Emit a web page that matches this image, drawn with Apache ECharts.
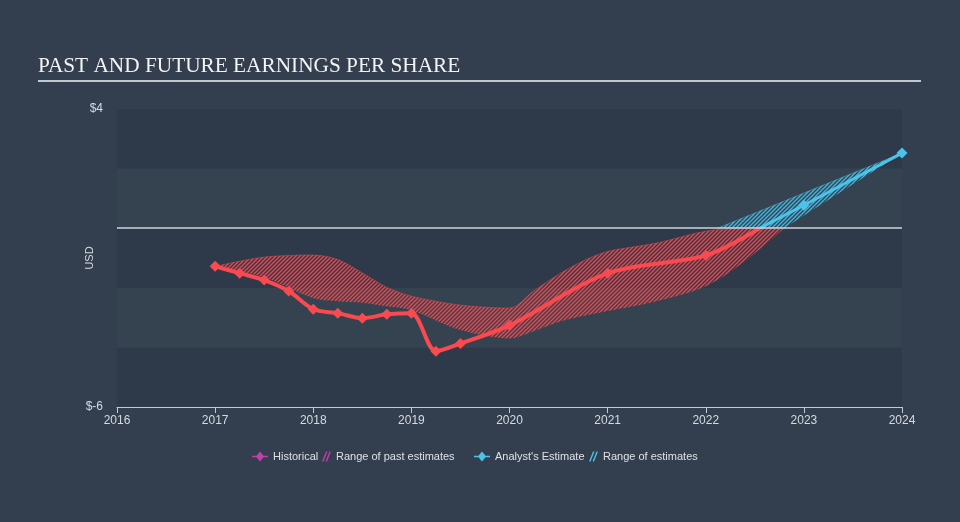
<!DOCTYPE html>
<html><head><meta charset="utf-8">
<script src="https://cdn.jsdelivr.net/npm/echarts@6/dist/echarts.min.js"></script>
<style>html,body{margin:0;padding:0;background:#333f4e}#c{width:960px;height:522px}</style>
</head><body><div id="c"></div>
<script>
// ---- data ----
const xTicks = [2016, 2017, 2018, 2019, 2020, 2021, 2022, 2023, 2024];
const yMin = -6, yMax = 4;
const histX = [2017, 2017.25, 2017.5, 2017.75, 2018, 2018.25, 2018.5, 2018.75, 2019, 2019.25, 2019.5, 2020, 2021, 2022, 2022.55];
const histY = [-1.28, -1.51, -1.74, -2.11, -2.72, -2.85, -3.02, -2.89, -2.85, -4.13, -3.87, -3.26, -1.51, -0.91, 0.0];
const estX = [2022.55, 2023, 2024];
const estY = [0.0, 0.77, 2.52];
const pastBandX    = [2017, 2017.5, 2018, 2018.25, 2018.5, 2018.75, 2019, 2019.5, 2020, 2020.25, 2020.5, 2020.75, 2021, 2021.5, 2022, 2022.4, 2022.8];
const pastBandHigh = [-1.28, -0.97, -0.9, -1.05, -1.5, -1.98, -2.28, -2.58, -2.68, -2.1, -1.55, -1.1, -0.78, -0.5, -0.1, 0, 0];
const pastBandLow  = [-1.28, -1.65, -2.35, -2.45, -2.5, -2.62, -2.75, -3.42, -3.7, -3.45, -3.15, -2.95, -2.78, -2.45, -1.95, -1.1, 0];
const futBandX    = [2022.12, 2022.8, 2023, 2024];
const futBandHigh = [0, 0.91, 1.18, 2.52];
const futBandLow  = [0, 0, 0.43, 2.52];

// ---- helpers ----
function hatch(color) {
  const c = document.createElement('canvas');
  c.width = 4; c.height = 4;
  const g = c.getContext('2d');
  g.strokeStyle = color; g.lineWidth = 1.5;
  g.beginPath();
  g.moveTo(0, 4); g.lineTo(4, 0);
  g.moveTo(-1, 1); g.lineTo(1, -1);
  g.moveTo(3, 5); g.lineTo(5, 3);
  g.stroke();
  return { image: c, repeat: 'repeat' };
}
// rows are [y, x] so that the stacked dimension is the value (y) dimension
const rowsYX = (xs, ys) => xs.map((x, i) => [ys[i], x]);
const diff = (hi, lo) => hi.map((v, i) => +(v - lo[i]).toFixed(3));

const RED = '#fa4a4f', BLUE = '#4cc3ea', MAG = '#c13fa9';
const hatchIcon = 'path://M0,10L4,0L5.5,0L1.5,10Z M3.5,10L7.5,0L9,0L5,10Z';
const lineDiamondIcon = 'path://M0,4.2L4.5,4.2L8,0L11.5,4.2L16,4.2L16,5.8L11.5,5.8L8,10L4.5,5.8L0,5.8Z';
const enc = { x: 1, y: 0 };
const legendText = { color: '#dde1e5', fontSize: 11, fontFamily: 'Liberation Sans, Arial, sans-serif' };
const legendItem = (left, name, icon, color, w) => ({
  left, top: 451, itemWidth: w, itemHeight: 10, selectedMode: false, padding: 0,
  textStyle: legendText, data: [{ name, icon, itemStyle: { color } }]
});

const chart = echarts.init(document.getElementById('c'));
chart.setOption({
  backgroundColor: '#333f4e',
  animation: false,
  graphic: [
    { type: 'text', left: 38, top: 56, style: { text: 'PAST AND FUTURE EARNINGS PER SHARE', font: '21.3px "Liberation Serif", "Times New Roman", serif', fill: '#f2f3f5' } },
    { type: 'line', shape: { x1: 38, y1: 81, x2: 921, y2: 81 }, style: { stroke: '#c3c8ce', lineWidth: 2 } }
  ],
  legend: [
    legendItem(252, 'Historical', lineDiamondIcon, MAG, 16),
    legendItem(322, 'Range of past estimates', hatchIcon, MAG, 9),
    legendItem(474, "Analyst's Estimate", lineDiamondIcon, BLUE, 16),
    legendItem(589, 'Range of estimates', hatchIcon, BLUE, 9)
  ],
  grid: { left: 117, right: 58, top: 109, bottom: 115 },
  xAxis: {
    type: 'value', min: xTicks[0], max: xTicks[xTicks.length - 1], interval: 1,
    axisLine: { onZero: false, lineStyle: { color: '#c5cad1', width: 1 } },
    axisTick: { show: true, length: 6, lineStyle: { color: '#c5cad1' } },
    axisLabel: { color: '#d6dae0', fontSize: 12, margin: 8, fontFamily: 'Liberation Sans, Arial, sans-serif', formatter: v => String(v) },
    splitLine: { show: false }
  },
  yAxis: {
    type: 'value', min: yMin, max: yMax, interval: 2,
    name: 'USD', nameLocation: 'middle', nameGap: 22, nameMoveOverlap: false,
    nameTextStyle: { color: '#d6dae0', fontSize: 11, fontFamily: 'Liberation Sans, Arial, sans-serif' },
    axisLine: { show: false }, axisTick: { show: false },
    axisLabel: { color: '#d6dae0', fontSize: 12, margin: 14, fontFamily: 'Liberation Sans, Arial, sans-serif',
      formatter: v => (v === yMax || v === yMin) ? '$' + v : '' },
    splitLine: { show: false },
    splitArea: { show: true, areaStyle: { color: ['#2e3a49', '#354250'] } }
  },
  series: [
    { name: 'pastLow', type: 'line', data: rowsYX(pastBandX, pastBandLow), encode: enc, stack: 'past', stackStrategy: 'all',
      symbol: 'none', smooth: 0.3, lineStyle: { opacity: 0 }, silent: true, z: 2 },
    { name: 'Range of past estimates', type: 'line', data: rowsYX(pastBandX, diff(pastBandHigh, pastBandLow)), encode: enc, stack: 'past', stackStrategy: 'all',
      symbol: 'none', smooth: 0.3, lineStyle: { color: 'rgba(250,74,79,0.6)', width: 0.7 }, itemStyle: { color: MAG },
      areaStyle: { color: hatch('rgba(245,74,80,0.9)'), opacity: 1 }, silent: true, z: 2 },
    { name: 'futLow', type: 'line', data: rowsYX(futBandX, futBandLow), encode: enc, stack: 'fut', stackStrategy: 'all',
      symbol: 'none', lineStyle: { opacity: 0 }, silent: true, z: 2 },
    { name: 'Range of estimates', type: 'line', data: rowsYX(futBandX, diff(futBandHigh, futBandLow)), encode: enc, stack: 'fut', stackStrategy: 'all',
      symbol: 'none', lineStyle: { color: 'rgba(76,195,234,0.6)', width: 0.7 }, itemStyle: { color: BLUE },
      areaStyle: { color: hatch('rgba(72,190,230,0.9)'), opacity: 1 }, silent: true, z: 2,
      markLine: { silent: true, symbol: 'none', label: { show: false }, lineStyle: { color: '#d0d4d9', width: 1.5, type: 'solid' }, data: [{ yAxis: 0 }] } },
    { name: 'Historical', type: 'line', z: 4,
      data: histX.map((x, i) => i === histX.length - 1 ? { value: [x, histY[i]], symbol: 'none' } : [x, histY[i]]),
      smooth: 0.3, symbol: 'diamond', symbolSize: 11, showAllSymbol: true,
      lineStyle: { color: RED, width: 4 }, itemStyle: { color: RED } },
    { name: "Analyst's Estimate", type: 'line', z: 4,
      data: estX.map((x, i) => i === 0 ? { value: [x, estY[i]], symbol: 'none' } : [x, estY[i]]),
      symbol: 'diamond', symbolSize: 11,
      lineStyle: { color: BLUE, width: 3 }, itemStyle: { color: BLUE } }
  ]
});
</script></body></html>
